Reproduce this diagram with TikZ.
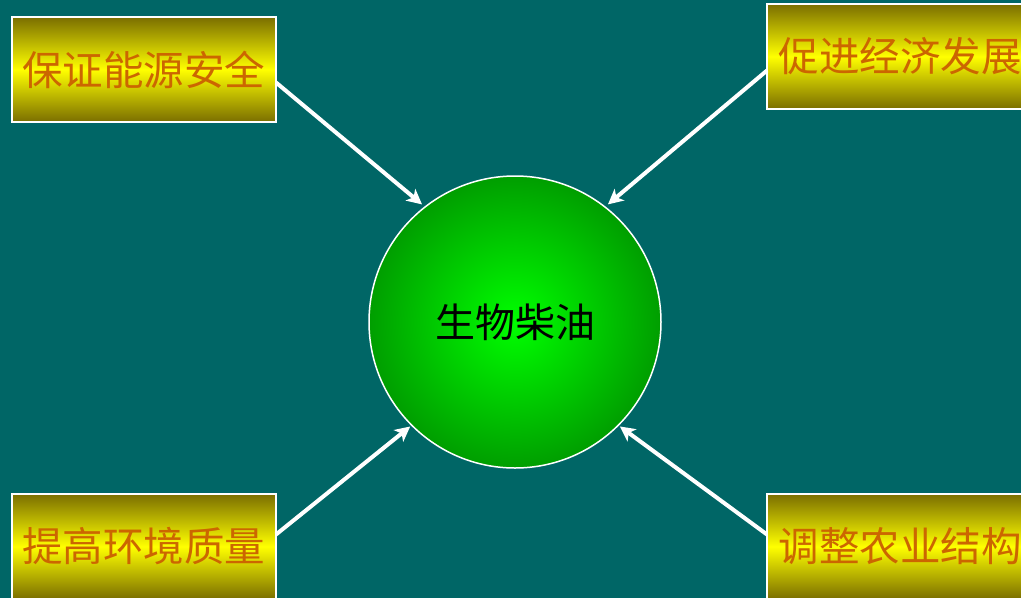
\documentclass[tikz,border=0pt]{standalone}
\usepackage{fontspec}
\newfontfamily\cjk{Noto Sans CJK SC}
\usetikzlibrary{arrows.meta,calc}
\definecolor{bgteal}{HTML}{006666}
\definecolor{boxolive}{HTML}{7A6E00}
\definecolor{boxyellow}{HTML}{FFFF00}
\definecolor{txtorange}{HTML}{CC6600}
\definecolor{ballin}{HTML}{00FF00}
\definecolor{ballout}{HTML}{009E00}
\tikzset{
  goalbox/.style={draw=white, line width=2pt, top color=boxolive,
    bottom color=boxolive, middle color=boxyellow, minimum width=264pt,
    minimum height=105pt, inner sep=0pt, outer sep=0pt, anchor=north west,
    font=\cjk\fontsize{40.5}{41}\selectfont, text=txtorange},
  hub/.style={circle, draw=white, line width=1.5pt, inner color=ballin,
    outer color=ballout, minimum size=292pt, inner sep=0pt, outer sep=0pt,
    font=\cjk\fontsize{40}{41}\selectfont, text=black},
  link/.style={draw=white, line width=4pt,
    -{Stealth[length=15pt,width=15pt,inset=4pt]}}
}
\begin{document}
\begin{tikzpicture}[x=1pt,y=-1pt]
\useasboundingbox (0,0) rectangle (1021,598);
\clip (0,0) rectangle (1021,598);
\fill[bgteal] (0,0) rectangle (1021,598);
\node[hub] (c) at (515,322) {\raisebox{-3pt}{生物柴油}};
\node[goalbox] (tl) at (12,17) {\raisebox{-4pt}{保证能源安全}};
\node[goalbox] (tr) at (767,4) {\hspace*{2pt}\raisebox{-4pt}{促进经济发展}};
\node[goalbox] (bl) at (12,494) {\raisebox{-4pt}{提高环境质量}};
\node[goalbox] (br) at (767,494) {\hspace*{2pt}\raisebox{-4pt}{调整农业结构}};
\coordinate (tlS) at ([yshift=-13pt]tl.east);
\coordinate (trS) at ([yshift=-14pt]tr.west);
\coordinate (blS) at ([yshift=12pt]bl.east);
\coordinate (brS) at ([yshift=12pt]br.west);
\draw[link, shorten >=4pt] (tlS) -- (c.128);
\draw[link, shorten >=4pt] (trS) -- (c.52);
\draw[link, shorten >=2pt] (blS) -- (c.225);
\draw[link, shorten >=2pt] (brS) -- (c.-45);
\end{tikzpicture}
\end{document}
